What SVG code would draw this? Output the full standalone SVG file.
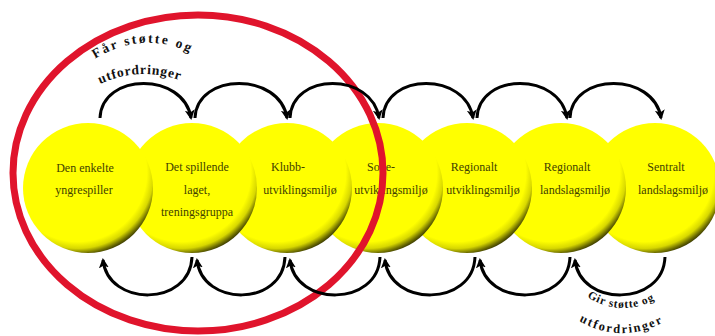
<svg xmlns="http://www.w3.org/2000/svg" xmlns:xlink="http://www.w3.org/1999/xlink" width="715" height="336" viewBox="0 0 715 336">
  <defs>
    <radialGradient id="ball" cx="0.42" cy="0.38" r="0.65">
      <stop offset="0" stop-color="#ffff00"/>
      <stop offset="0.82" stop-color="#ffff00"/>
      <stop offset="0.9" stop-color="#d8d800"/>
      <stop offset="0.96" stop-color="#6b6b00"/>
      <stop offset="1" stop-color="#2e2e00"/>
    </radialGradient>
    <marker id="ah" markerUnits="userSpaceOnUse" markerWidth="12" markerHeight="12" refX="8" refY="5" orient="auto">
      <path d="M0,0 L10,5 L0,10 L2.5,5 z" fill="#000"/>
    </marker>
    <path id="tp1" d="M95,59 Q150,25 207,62"/>
    <path id="tp2" d="M100,84 Q146,63 194,86"/>
    <path id="bp1" d="M587,297 Q625,320 663,295"/>
    <path id="bp2" d="M579,321 Q625,347 673,317"/>
  </defs>
  <style>
    .ball { fill: url(#ball); }
    .nt { font-family: "Liberation Serif", "Times New Roman", serif; font-size: 12px; fill: #3f3f00; text-anchor: middle; }
    .arc { fill: none; stroke: #000; stroke-width: 3; marker-end: url(#ah); }
    .lbl { font-family: "Liberation Serif", "Times New Roman", serif; font-weight: bold; fill: #111; }
  </style>

  <g id="node-7">
    <circle class="ball" cx="655" cy="188" r="65"/>
    <text class="nt" x="666" y="171">Sentralt</text>
    <text class="nt" x="673" y="194">landslagsmiljø</text>
  </g>
  <g id="node-6">
    <circle class="ball" cx="561" cy="188" r="65"/>
    <text class="nt" x="567" y="171">Regionalt</text>
    <text class="nt" x="575" y="194">landslagsmiljø</text>
  </g>
  <g id="node-5">
    <circle class="ball" cx="467" cy="188" r="65"/>
    <text class="nt" x="474" y="171">Regionalt</text>
    <text class="nt" x="483" y="194">utviklingsmiljø</text>
  </g>
  <g id="node-4">
    <circle class="ball" cx="378" cy="188" r="65"/>
    <text class="nt" x="381" y="171">Sone-</text>
    <text class="nt" x="391" y="194">utviklingsmiljø</text>
  </g>
  <g id="node-3">
    <circle class="ball" cx="287" cy="188" r="65"/>
    <text class="nt" x="288" y="171">Klubb-</text>
    <text class="nt" x="300" y="194">utviklingsmiljø</text>
  </g>
  <g id="node-2">
    <circle class="ball" cx="192" cy="188" r="65"/>
    <text class="nt" x="197" y="171">Det spillende</text>
    <text class="nt" x="197" y="194">laget,</text>
    <text class="nt" x="197" y="216">treningsgruppa</text>
  </g>
  <g id="node-1">
    <circle class="ball" cx="88" cy="188" r="65"/>
    <text class="nt" x="85" y="172">Den enkelte</text>
    <text class="nt" x="84" y="194">yngrespiller</text>
  </g>

  <g id="ring">
    <ellipse cx="198" cy="173" rx="185" ry="158" fill="none" stroke="#e0142c" stroke-width="7"/>
  </g>

  <g id="connectors">
    <path class="arc" d="M100,118 C102,72 184,72 191,118"/>
    <path class="arc" d="M195,118 C197,72 280,72 287,118"/>
    <path class="arc" d="M290,118 C292,72 372,72 379,118"/>
    <path class="arc" d="M383,118 C385,72 466,72 473,118"/>
    <path class="arc" d="M477,118 C479,72 560,72 567,118"/>
    <path class="arc" d="M570,118 C572,72 654,72 661,118"/>

    <path class="arc" d="M192,257 C190,307 108,307 103,260"/>
    <path class="arc" d="M285,257 C283,307 202,307 197,260"/>
    <path class="arc" d="M380,257 C378,307 295,307 290,260"/>
    <path class="arc" d="M475,257 C473,307 390,307 385,260"/>
    <path class="arc" d="M570,257 C568,307 485,307 480,260"/>
    <path class="arc" d="M665,257 C663,307 580,307 575,260"/>
  </g>

  <g id="labels">
    <text class="lbl" font-size="13.5" letter-spacing="2.2"><textPath xlink:href="#tp1" href="#tp1">Får støtte og</textPath></text>
    <text class="lbl" font-size="13.5" letter-spacing="0.8"><textPath xlink:href="#tp2" href="#tp2">utfordringer</textPath></text>
    <text class="lbl" font-size="11.5" letter-spacing="0.8"><textPath xlink:href="#bp1" href="#bp1">Gir støtte og</textPath></text>
    <text class="lbl" font-size="12.5" letter-spacing="1.8"><textPath xlink:href="#bp2" href="#bp2">utfordringer</textPath></text>
  </g>
</svg>
